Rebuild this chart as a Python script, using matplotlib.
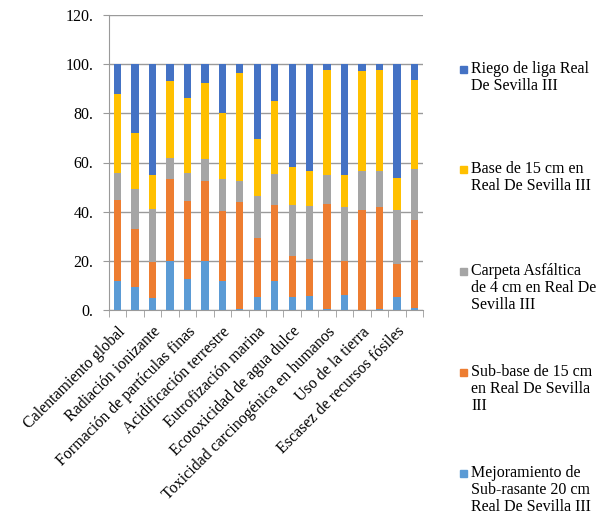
import matplotlib.pyplot as plt
import numpy as np
from matplotlib.patches import Rectangle

plt.rcParams['font.family'] = ['Liberation Serif', 'DejaVu Serif']

categorias = [
    'Calentamiento global', 'Agotamiento del ozono estratosférico',
    'Radiación ionizante', 'Formación de ozono, salud humana',
    'Formación de partículas finas', 'Formación de ozono, ecosistemas terrestres',
    'Acidificación terrestre', 'Eutrofización de agua dulce',
    'Eutrofización marina', 'Ecotoxicidad terrestre',
    'Ecotoxicidad de agua dulce', 'Ecotoxicidad marina',
    'Toxicidad carcinogénica en humanos', 'Toxicidad no carcinogénica en humanos',
    'Uso de la tierra', 'Escasez de recursos minerales',
    'Escasez de recursos fósiles', 'Consumo de agua',
]

# porcentaje de cada capa por categoria de impacto (de abajo hacia arriba)
mejoramiento = [11.7, 9.3, 4.9, 20.1, 12.5, 19.9, 11.9, 0.4, 5.3,
                11.9, 5.4, 5.8, 0.3, 6.1, 0.1, 0.3, 5.1, 0.7]
sub_base = [33.2, 23.6, 14.5, 33.3, 31.9, 32.7, 28.2, 43.5, 24.0,
            30.9, 16.4, 15.1, 42.7, 13.8, 40.4, 41.4, 13.6, 35.9]
carpeta = [10.8, 16.4, 21.7, 8.4, 11.3, 8.8, 13.2, 8.7, 16.9,
           12.5, 20.9, 21.4, 11.9, 22.0, 16.1, 14.8, 21.8, 20.7]
base = [32.1, 22.8, 13.8, 31.4, 30.7, 31.0, 26.9, 43.7, 23.4,
        29.8, 15.6, 14.3, 42.8, 13.2, 40.6, 41.3, 13.2, 36.2]
riego = [12.2, 27.9, 45.1, 6.8, 13.6, 7.6, 19.8, 3.7, 30.4,
         14.9, 41.7, 43.4, 2.3, 44.9, 2.8, 2.2, 46.3, 6.5]

series = [
    ('Mejoramiento de\nSub-rasante 20 cm\nReal De Sevilla III', mejoramiento, '#5B9BD5'),
    ('Sub-base de 15 cm\nen Real De Sevilla\nIII', sub_base, '#ED7D31'),
    ('Carpeta Asfáltica\nde 4 cm en Real De\nSevilla III', carpeta, '#A5A5A5'),
    ('Base de 15 cm en\nReal De Sevilla III', base, '#FFC000'),
    ('Riego de liga Real\nDe Sevilla III', riego, '#4472C4'),
]

fs = 11.5

fig = plt.figure(figsize=(6.08, 5.2), dpi=100)
ax = fig.add_axes([0.179, 0.404, 0.517, 0.567])

x = np.arange(len(categorias))
bottom = np.zeros(len(categorias))
for nombre, vals, color in series:
    ax.bar(x, vals, width=0.42, bottom=bottom, color=color, zorder=3)
    bottom += np.array(vals)

ax.set_xlim(-0.5, len(categorias) - 0.5)
ax.set_ylim(0, 120)
yt = np.arange(0, 121, 20)
ax.set_yticks(yt)
ax.set_yticklabels(['%d.' % v for v in yt], fontsize=fs)
ax.yaxis.grid(True, color='#9a9a9a', lw=1, zorder=0)
ax.tick_params(axis='y', length=4, color='#9a9a9a', pad=7)

ax.set_xticks(x[::2])
ax.set_xticklabels(categorias[::2], rotation=45, ha='right',
                   rotation_mode='anchor', fontsize=fs)
ax.set_xticks(np.arange(-0.5, len(categorias), 1), minor=True)
ax.tick_params(axis='x', which='major', length=0, pad=10)
ax.tick_params(axis='x', which='minor', length=5, color='#9a9a9a')

for s in ['top', 'right']:
    ax.spines[s].set_visible(False)
for s in ['left', 'bottom']:
    ax.spines[s].set_color('#9a9a9a')

# leyenda manual, de arriba hacia abajo
tops = [64, 164, 266, 367, 468]
for (nombre, vals, color), top in zip(series[::-1], tops):
    yf = 1 - top / 520
    fig.patches.append(Rectangle((460 / 608, yf - 9 / 520), 7 / 608, 7 / 520,
                                 transform=fig.transFigure, color=color))
    fig.text(471 / 608, yf + 3 / 520, nombre, va='top', ha='left',
             fontsize=fs, linespacing=1.08)

plt.savefig('out.png')
